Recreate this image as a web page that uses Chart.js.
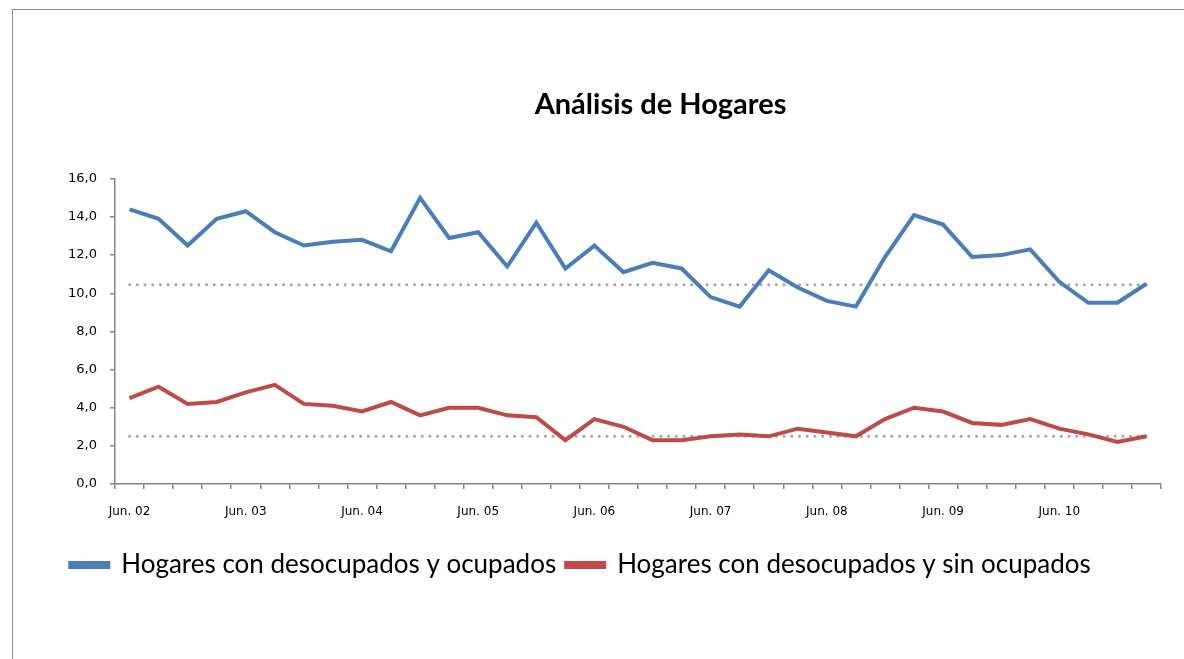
<!DOCTYPE html>
<html>
<head>
<meta charset="utf-8">
<script src="https://cdn.jsdelivr.net/npm/chart.js@4.4.1/dist/chart.umd.min.js"></script>
<style>
  html, body { margin: 0; padding: 0; background: #fff; overflow: hidden; }
  #marco { position: absolute; left: 12px; top: 9px; width: 1400px; height: 900px; border: 1px solid #8d8d8d; }
  #contenedor { position: absolute; left: 0; top: 0; width: 1184px; height: 659px; }
</style>
</head>
<body>
<div id="marco"></div>
<div id="contenedor"><canvas id="grafico"></canvas></div>
<script>
// Etiquetas del eje X (una por trimestre, solo se rotula junio)
const etiquetas = [
  'Jun. 02', '', '', '',
  'Jun. 03', '', '', '',
  'Jun. 04', '', '', '',
  'Jun. 05', '', '', '',
  'Jun. 06', '', '', '',
  'Jun. 07', '', '', '',
  'Jun. 08', '', '', '',
  'Jun. 09', '', '', '',
  'Jun. 10', '', '', ''
];

// Hogares con desocupados y ocupados (%)
const conOcupados = [
  14.4, 13.9, 12.5, 13.9, 14.3, 13.2, 12.5, 12.7, 12.8, 12.2,
  15.0, 12.9, 13.2, 11.4, 13.7, 11.3, 12.5, 11.1, 11.6, 11.3,
  9.8, 9.3, 11.2, 10.3, 9.6, 9.3, 11.9, 14.1, 13.6, 11.9,
  12.0, 12.3, 10.6, 9.5, 9.5, 10.5
];

// Hogares con desocupados y sin ocupados (%)
const sinOcupados = [
  4.5, 5.1, 4.2, 4.3, 4.8, 5.2, 4.2, 4.1, 3.8, 4.3,
  3.6, 4.0, 4.0, 3.6, 3.5, 2.3, 3.4, 3.0, 2.3, 2.3,
  2.5, 2.6, 2.5, 2.9, 2.7, 2.5, 3.4, 4.0, 3.8, 3.2,
  3.1, 3.4, 2.9, 2.6, 2.2, 2.5
];

// Promedios del periodo (líneas punteadas)
const promedioConOcupados = 10.45;
const promedioSinOcupados = 2.5;

const fuente = "Lato, 'Open Sans', sans-serif";
const fuenteEjes = "'DejaVu Sans', Verdana, sans-serif";
const azul = '#4A7EBB';
const rojo = '#BE4B48';
const gris = '#A6A6A6';

const lineaPromedio = (valor) => ({
  label: 'promedio',
  data: etiquetas.map(() => valor),
  borderColor: gris,
  borderWidth: 3,
  borderDash: [0.1, 7.6],
  borderCapStyle: 'round',
  pointRadius: 0,
  fill: false,
  order: 2
});

// Desplaza el título hacia la derecha, como en el original
const moverTitulo = {
  id: 'moverTitulo',
  afterLayout(chart) {
    const t = chart.titleBlock;
    if (t) { t.left += 80; t.right += 80; }
  }
};

new Chart(document.getElementById('grafico'), {
  type: 'line',
  data: {
    labels: etiquetas,
    datasets: [
      {
        label: 'Hogares con desocupados y ocupados',
        data: conOcupados,
        borderColor: azul,
        backgroundColor: azul,
        borderWidth: 4,
        pointRadius: 0,
        tension: 0,
        order: 1
      },
      {
        label: 'Hogares con desocupados y sin ocupados',
        data: sinOcupados,
        borderColor: rojo,
        backgroundColor: rojo,
        borderWidth: 4,
        pointRadius: 0,
        tension: 0,
        order: 1
      },
      lineaPromedio(promedioConOcupados),
      lineaPromedio(promedioSinOcupados)
    ]
  },
  plugins: [moverTitulo],
  options: {
    responsive: true,
    maintainAspectRatio: false,
    animation: false,
    layout: { padding: { left: 0, right: 23, top: 0, bottom: 71 } },
    plugins: {
      title: {
        display: true,
        text: 'Análisis de Hogares',
        color: '#000',
        font: { family: fuente, size: 29, weight: 'bold' },
        padding: { top: 87, bottom: 57 }
      },
      legend: {
        position: 'bottom',
        labels: {
          filter: (item) => item.text !== 'promedio',
          color: '#000',
          font: { family: fuente, size: 26 },
          boxWidth: 38,
          boxHeight: 4,
          padding: 10
        }
      },
      tooltip: { enabled: false }
    },
    scales: {
      x: {
        offset: true,
        afterFit: (scale) => { scale.height = 58; },
        grid: { offset: true, drawOnChartArea: false, tickLength: 5, color: '#868686', lineWidth: 1.5 },
        border: { color: '#868686', width: 1.5 },
        ticks: {
          autoSkip: false,
          maxRotation: 0,
          padding: 16,
          color: '#000',
          font: { family: fuenteEjes, size: 12 }
        }
      },
      y: {
        min: 0,
        max: 16,
        afterFit: (scale) => { scale.width = 115; },
        grid: { drawOnChartArea: false, tickLength: 5, color: '#868686', lineWidth: 1.5 },
        border: { color: '#868686', width: 1.5 },
        ticks: {
          stepSize: 2,
          padding: 13,
          color: '#000',
          font: { family: fuenteEjes, size: 13 },
          callback: (v) => v.toFixed(1).replace('.', ',')
        }
      }
    }
  }
});
</script>
</body>
</html>
